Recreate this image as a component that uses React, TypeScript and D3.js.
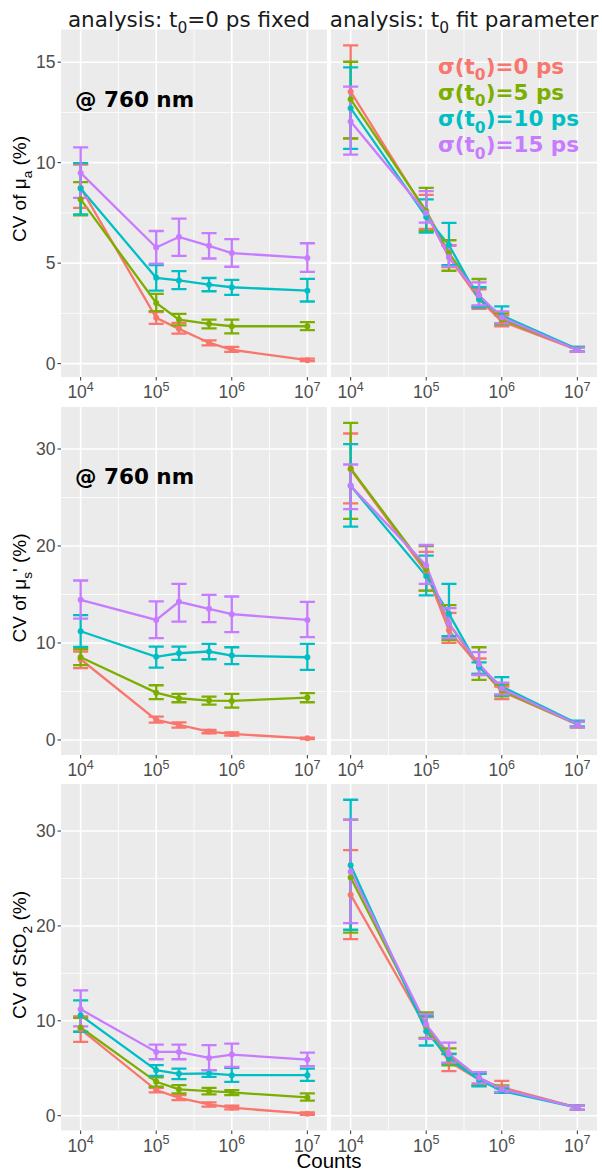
import * as d3 from "d3"

// counts on x (log scale), one series per sigma(t0)
const counts = [1e4, 1e5, 2e5, 5e5, 1e6, 1e7]
const sigmas = [0, 5, 10, 15]
const colors = ["#F8766D", "#7CAE00", "#00BFC4", "#C77CFF"]
const xMajor = [4, 5, 6, 7]
const xMinor = [4.5, 5.5, 6.5]

// CV of mu_a, t0 fixed  [sigma 0, 5, 10, 15]
const muaFixedMean = [
  [8.75, 2.28, 1.73, 1.04, 0.69, 0.17],
  [8.17, 3.02, 2.19, 1.98, 1.86, 1.86],
  [8.71, 4.27, 4.14, 3.93, 3.8, 3.63],
  [9.49, 5.78, 6.3, 5.86, 5.5, 5.26],
]
const muaFixedLo = [
  [7.75, 1.98, 1.49, 0.91, 0.58, 0.12],
  [7.38, 2.61, 1.9, 1.75, 1.5, 1.67],
  [7.43, 3.63, 3.71, 3.6, 3.42, 3.09],
  [8.25, 4.98, 5.36, 5.23, 4.82, 4.57],
]
const muaFixedHi = [
  [9.9, 2.56, 2.03, 1.16, 0.83, 0.25],
  [9.03, 3.47, 2.48, 2.19, 2.19, 2.06],
  [9.98, 4.9, 4.6, 4.26, 4.17, 4.22],
  [10.76, 6.6, 7.21, 6.49, 6.19, 5.99],
]

// CV of mu_a, t0 fitted
const muaFitMean = [
  [13.53, 7.5, 5.3, 3.2, 2.1, 0.68],
  [13.15, 7.6, 5.5, 3.4, 2.2, 0.7],
  [12.71, 7.3, 5.9, 3.2, 2.4, 0.72],
  [12.05, 7.5, 5.3, 3.4, 2.3, 0.68],
]
const muaFitLo = [
  [11.22, 6.7, 4.8, 2.72, 1.86, 0.58],
  [11.2, 6.6, 4.62, 2.85, 1.95, 0.6],
  [10.69, 6.52, 4.9, 2.8, 2.0, 0.6],
  [10.4, 7.02, 4.83, 2.9, 2.0, 0.58],
]
const muaFitHi = [
  [15.84, 8.4, 5.9, 3.7, 2.4, 0.8],
  [15.02, 8.75, 6.14, 4.21, 2.5, 0.83],
  [14.74, 8.17, 7.0, 3.8, 2.85, 0.83],
  [13.78, 8.58, 5.86, 4.04, 2.6, 0.8],
]

// CV of mu_s', t0 fixed
const musFixedMean = [
  [8.32, 2.06, 1.55, 0.86, 0.62, 0.17],
  [8.53, 4.88, 4.3, 4.06, 4.02, 4.37],
  [11.21, 8.57, 8.94, 9.12, 8.7, 8.53],
  [14.45, 12.38, 14.24, 13.52, 12.97, 12.38],
]
const musFixedLo = [
  [7.4, 1.79, 1.27, 0.69, 0.45, 0.08],
  [7.71, 4.2, 3.89, 3.65, 3.34, 3.89],
  [9.6, 7.46, 8.26, 8.32, 7.81, 7.22],
  [12.52, 10.49, 12.21, 12.14, 11.11, 10.6],
]
const musFixedHi = [
  [9.12, 2.41, 1.82, 1.03, 0.79, 0.24],
  [9.36, 5.64, 4.75, 4.47, 4.75, 4.82],
  [12.87, 9.63, 9.63, 9.91, 9.56, 9.91],
  [16.44, 14.28, 16.1, 14.96, 14.79, 14.24],
]

// CV of mu_s', t0 fitted
const musFitMean = [
  [27.9, 17.3, 11.3, 7.6, 5.0, 1.6],
  [28.0, 17.6, 12.0, 7.7, 5.1, 1.6],
  [26.2, 16.9, 13.0, 7.5, 5.5, 1.7],
  [26.2, 18.0, 12.0, 7.8, 5.3, 1.6],
]
const musFitLo = [
  [24.4, 15.4, 10.0, 6.8, 4.2, 1.3],
  [22.8, 15.4, 10.3, 6.2, 4.5, 1.3],
  [22.0, 14.9, 10.7, 6.8, 4.6, 1.4],
  [23.8, 16.1, 10.5, 6.7, 4.7, 1.3],
]
const musFitHi = [
  [31.6, 19.4, 13.1, 8.4, 5.5, 1.9],
  [32.7, 20.0, 13.9, 9.56, 5.7, 1.9],
  [30.5, 19.0, 16.1, 8.0, 6.47, 2.0],
  [28.4, 20.1, 13.6, 9.05, 5.9, 1.9],
]

// CV of StO2, t0 fixed
const stoFixedMean = [
  [9.1, 2.7, 1.89, 1.19, 0.84, 0.21],
  [9.3, 3.57, 2.77, 2.59, 2.45, 1.93],
  [10.58, 4.8, 4.41, 4.45, 4.27, 4.27],
  [11.21, 6.72, 6.72, 6.09, 6.44, 5.92],
]
const stoFixedLo = [
  [7.78, 2.45, 1.65, 0.95, 0.67, 0.1],
  [8.85, 3.05, 2.35, 2.24, 2.17, 1.58],
  [8.83, 4.2, 3.85, 4.1, 3.57, 3.68],
  [9.42, 5.95, 5.95, 4.8, 5.15, 5.22],
]
const stoFixedHi = [
  [10.47, 2.94, 2.17, 1.4, 1.05, 0.35],
  [10.3, 4.03, 3.22, 2.94, 2.7, 2.35],
  [12.15, 5.32, 4.97, 4.8, 5.04, 4.97],
  [13.2, 7.5, 7.5, 7.43, 7.6, 6.65],
]

// CV of StO2, t0 fitted
const stoFitMean = [
  [23.3, 9.3, 5.7, 3.8, 3.0, 0.84],
  [25.1, 9.5, 6.3, 4.0, 2.8, 0.84],
  [26.4, 8.9, 6.0, 3.8, 2.6, 0.84],
  [25.7, 9.6, 6.5, 4.0, 2.8, 0.84],
]
const stoFitLo = [
  [18.6, 8.1, 4.7, 3.2, 2.4, 0.62],
  [19.3, 8.2, 5.3, 3.2, 2.4, 0.62],
  [19.6, 7.4, 5.5, 3.1, 2.4, 0.62],
  [20.3, 8.1, 5.6, 3.4, 2.5, 0.62],
]
const stoFitHi = [
  [28.0, 10.4, 6.55, 4.4, 3.68, 1.05],
  [31.2, 10.9, 7.1, 4.6, 3.2, 1.05],
  [33.3, 10.5, 6.5, 4.4, 2.9, 1.05],
  [31.2, 10.7, 7.7, 4.6, 3.1, 1.05],
]

type Seg = { t: string; sub?: boolean; sup?: boolean }

const stripTitles: Seg[][] = [
  [{ t: "analysis: t" }, { t: "0", sub: true }, { t: "=0 ps fixed" }],
  [{ t: "analysis: t" }, { t: "0", sub: true }, { t: " fit parameter" }],
]
const yTitles: Seg[][] = [
  [{ t: "CV of μ" }, { t: "a", sub: true }, { t: " (%)" }],
  [{ t: "CV of μ" }, { t: "s", sub: true }, { t: "' (%)" }],
  [{ t: "CV of StO" }, { t: "2", sub: true }, { t: " (%)" }],
]
const wavelengthLabel = "@ 760 nm"

const W = 602
const H = 1172
const cols = [[61, 327], [331, 597]]
const rows = [[29.5, 377], [407, 755], [784, 1130.5]]
const yTitleMid = [189, 588, 955]
const stripShift = [-5, 0]
const capW = 0.2 // errorbar width in decades

const panels = [
  [
    { mean: muaFixedMean, lo: muaFixedLo, hi: muaFixedHi },
    { mean: muaFitMean, lo: muaFitLo, hi: muaFitHi },
  ],
  [
    { mean: musFixedMean, lo: musFixedLo, hi: musFixedHi },
    { mean: musFitMean, lo: musFitLo, hi: musFitHi },
  ],
  [
    { mean: stoFixedMean, lo: stoFixedLo, hi: stoFixedHi },
    { mean: stoFitMean, lo: stoFitLo, hi: stoFitHi },
  ],
]

const Segs = ({ segs, size }: { segs: Seg[]; size: number }) => {
  const out: any[] = []
  let shift = 0
  segs.forEach((s, i) => {
    let target = 0
    if (s.sub) target = size * 0.3
    if (s.sup) target = -size * 0.42
    const dy = target - shift
    shift = target
    out.push(
      <tspan key={i} dy={dy} fontSize={s.sub || s.sup ? size * 0.72 : size}>
        {s.t}
      </tspan>
    )
  })
  return <>{out}</>
}

// ggplot-like expansion
const lx0 = 4 - capW / 2
const lx1 = 7 + capW / 2
const xPad = (lx1 - lx0) * 0.05

const App = () => {
  const tickFont = "'Liberation Sans', Arial, sans-serif"
  const dvFont = "'DejaVu Sans', Verdana, sans-serif"

  const rowEls = rows.map((ry, ri) => {
    const all = panels[ri].flatMap(p => [...p.lo.flat(), ...p.hi.flat()])
    const mn = d3.min(all) as number
    const mx = d3.max(all) as number
    const pad = (mx - mn) * 0.05
    const y = d3.scaleLinear().domain([mn - pad, mx + pad]).range([ry[1], ry[0]])
    const yMajor = y.ticks(4)
    const step = yMajor[1] - yMajor[0]
    const yMinor = [yMajor[0] - step / 2, ...yMajor.map(v => v + step / 2)].filter(
      v => v > y.domain()[0] && v < y.domain()[1]
    )

    const colEls = cols.map((cx, ci) => {
      const x = d3
        .scaleLog()
        .domain([10 ** (lx0 - xPad), 10 ** (lx1 + xPad)])
        .range([cx[0], cx[1]])
      const p = panels[ri][ci]
      const line = d3
        .line<number>()
        .x((_, i) => x(counts[i]))
        .y(d => y(d))
      return (
        <g key={ci}>
          <rect x={cx[0]} y={ry[0]} width={cx[1] - cx[0]} height={ry[1] - ry[0]} fill="#EBEBEB" />
          {yMinor.map(v => (
            <line key={"ym" + v} x1={cx[0]} x2={cx[1]} y1={y(v)} y2={y(v)} stroke="#fff" strokeWidth={0.8} />
          ))}
          {xMinor.map(v => (
            <line key={"xm" + v} x1={x(10 ** v)} x2={x(10 ** v)} y1={ry[0]} y2={ry[1]} stroke="#fff" strokeWidth={0.8} />
          ))}
          {yMajor.map(v => (
            <line key={"yM" + v} x1={cx[0]} x2={cx[1]} y1={y(v)} y2={y(v)} stroke="#fff" strokeWidth={1.6} />
          ))}
          {xMajor.map(v => (
            <line key={"xM" + v} x1={x(10 ** v)} x2={x(10 ** v)} y1={ry[0]} y2={ry[1]} stroke="#fff" strokeWidth={1.6} />
          ))}
          {p.mean.map((s, si) => (
            <path key={"l" + si} d={line(s) as string} fill="none" stroke={colors[si]} strokeWidth={2.3} />
          ))}
          {p.mean.map((s, si) =>
            s.map((_, i) => {
              const c = Math.log10(counts[i])
              const xa = x(10 ** (c - capW / 2))
              const xb = x(10 ** (c + capW / 2))
              const xc = x(counts[i])
              const yl = y(p.lo[si][i])
              const yh = y(p.hi[si][i])
              return (
                <path
                  key={"e" + si + "-" + i}
                  d={`M${xa},${yh}H${xb}M${xc},${yh}V${yl}M${xa},${yl}H${xb}`}
                  fill="none"
                  stroke={colors[si]}
                  strokeWidth={2.3}
                />
              )
            })
          )}
          {p.mean.map((s, si) =>
            s.map((v, i) => <circle key={"p" + si + "-" + i} cx={x(counts[i])} cy={y(v)} r={3} fill={colors[si]} />)
          )}
          {/* x axis */}
          {xMajor.map(v => (
            <g key={"xt" + v}>
              <line x1={x(10 ** v)} x2={x(10 ** v)} y1={ry[1]} y2={ry[1] + 3.5} stroke="#333" strokeWidth={1} />
              <text x={x(10 ** v)} y={ry[1] + 21} textAnchor="middle" fontFamily={tickFont} fill="#4D4D4D" fontSize={17.5}>
                <Segs segs={[{ t: "10" }, { t: String(v), sup: true }]} size={17.5} />
              </text>
            </g>
          ))}
          {ri < 2 && ci === 0 && (
            <text x={cx[0] + 14} y={ry[0] + 77} fontFamily={dvFont} fontWeight="bold" fontSize={21.5} fill="#000">
              {wavelengthLabel}
            </text>
          )}
          {ri === 0 &&
            ci === 1 &&
            sigmas.map((sg, si) => (
              <text
                key={"lg" + si}
                x={cx[0] + 107}
                y={ry[0] + 44 + si * 26.3}
                fontFamily={dvFont}
                fontWeight="bold"
                fontSize={21.5}
                fill={colors[si]}
              >
                <Segs segs={[{ t: "σ(t" }, { t: "0", sub: true }, { t: `)=${sg} ps` }]} size={21.5} />
              </text>
            ))}
          {ri === 0 && (
            <text
              x={(cx[0] + cx[1]) / 2 + stripShift[ci]}
              y={26.5}
              textAnchor="middle"
              fontFamily={dvFont}
              fontSize={21.5}
              fill="#1A1A1A"
            >
              <Segs segs={stripTitles[ci]} size={21.5} />
            </text>
          )}
        </g>
      )
    })

    return (
      <g key={ri}>
        {colEls}
        {yMajor.map(v => (
          <g key={"yt" + v}>
            <line x1={cols[0][0] - 3.5} x2={cols[0][0]} y1={y(v)} y2={y(v)} stroke="#333" strokeWidth={1} />
            <text x={cols[0][0] - 5.5} y={y(v)} dy="0.36em" textAnchor="end" fontFamily={tickFont} fill="#4D4D4D" fontSize={17.5}>
              {v}
            </text>
          </g>
        ))}
        <text
          transform={`translate(26,${yTitleMid[ri]}) rotate(-90)`}
          textAnchor="middle"
          fontFamily={tickFont}
          fontSize={19}
          fill="#000"
        >
          <Segs segs={yTitles[ri]} size={19} />
        </text>
      </g>
    )
  })

  return (
    <div style={{ position: "absolute", left: 0, top: 0 }}>
      <svg width={W} height={H} style={{ display: "block", background: "#fff" }}>
        {rowEls}
        <text x={(cols[0][0] + cols[1][1]) / 2} y={1168} textAnchor="middle" fontFamily={tickFont} fontSize={20.5} fill="#000">
          Counts
        </text>
      </svg>
    </div>
  )
}

export default App
